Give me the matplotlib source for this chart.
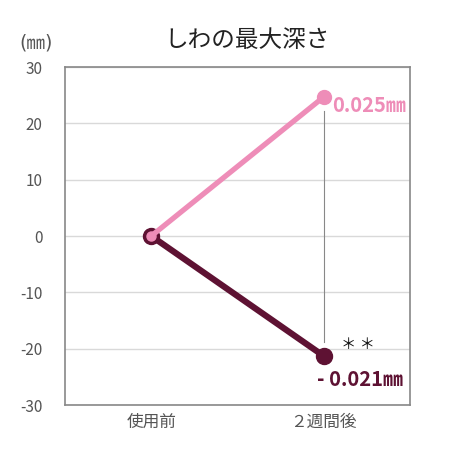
import numpy as np
import matplotlib.pyplot as plt

plt.rcParams['font.family'] = ['Noto Sans CJK JP', 'DejaVu Sans']

# データ
categories = ['使用前', '２週間後']
pink_vals = [0, 24.7]
dark_vals = [0, -21.3]
pink_label = '0.025㎜'
dark_label = '- 0.021㎜'
yticks = [-30, -20, -10, 0, 10, 20, 30]

pink = '#EE8DB8'
dark = '#5E1233'

fig = plt.figure(figsize=(4.5, 4.5), dpi=100)
ax = fig.add_axes([0.1444, 0.1, 0.7667, 0.751])

x = np.arange(len(categories))

# 有意差の縦線
ax.plot([x[1], x[1]], [pink_vals[1] - 2.5, dark_vals[1] + 2.5], color='#888888', lw=0.8, zorder=2)

ax.plot(x, dark_vals, color=dark, lw=4.5, marker='o', ms=11.5, zorder=3)
ax.plot(x, pink_vals, color=pink, lw=3.8, zorder=4)
ax.plot(x[1], pink_vals[1], 'o', color=pink, ms=10, zorder=4)
ax.plot(x[0], pink_vals[0], 'o', color=pink, ms=6.5, zorder=5)

ax.text(x[1] + 0.05, pink_vals[1] - 1.5, pink_label, color=pink, fontsize=14.5,
        fontweight='bold', va='center', ha='left')
ax.text(x[1] - 0.04, dark_vals[1] - 4.2, dark_label, color=dark, fontsize=14.5,
        fontweight='bold', va='center', ha='left')
ax.text(x[1] + 0.2, dark_vals[1] + 2, '＊ ＊', color='#111111', fontsize=11,
        va='center', ha='center')

ax.set_xlim(-0.5, 1.5)
ax.set_ylim(-30, 30)
ax.set_yticks(yticks)
ax.set_xticks(x)
ax.set_xticklabels(categories, fontsize=12, color='#555555')
ax.tick_params(axis='y', labelsize=11, colors='#555555', length=0, pad=16)
ax.tick_params(axis='x', length=0, pad=6)
ax.set_yticklabels([str(v) for v in yticks])
ax.grid(axis='y', color='#d9d9d9', lw=1)
ax.set_axisbelow(True)
for s in ax.spines.values():
    s.set_color('#888888')
    s.set_linewidth(1.2)

fig.text(0.08, 0.905, '(㎜)', fontsize=13.5, color='#555555', ha='center', va='center',
         family=['DejaVu Sans', 'Noto Sans CJK JP'])
fig.text(0.55, 0.91, 'しわの最大深さ', fontsize=17, color='#222222', ha='center', va='center')

fig.savefig('out.png', dpi=100)
